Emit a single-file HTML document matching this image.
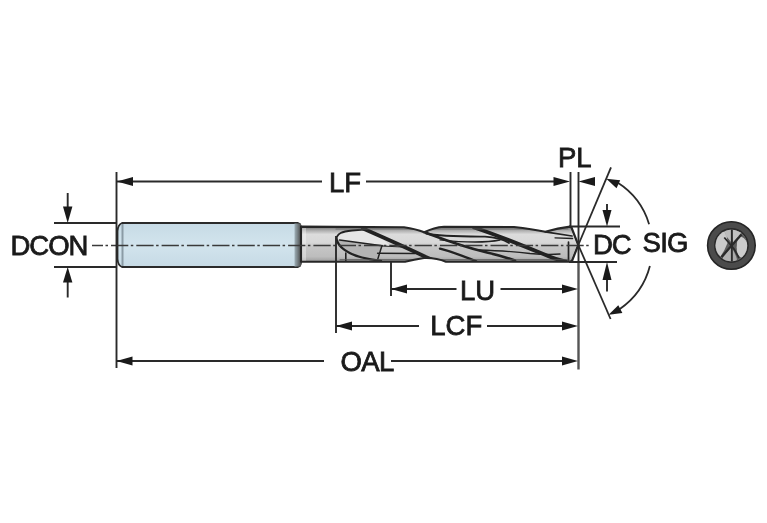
<!DOCTYPE html>
<html><head><meta charset="utf-8">
<style>
html,body{margin:0;padding:0;background:#fff;}
body{width:767px;height:523px;overflow:hidden;}
svg{display:block;}
text{font-family:"Liberation Sans",sans-serif;font-size:27.5px;fill:#1a1a1a;stroke:#1a1a1a;stroke-width:0.8px;}
</style></head><body>
<svg width="767" height="523" viewBox="0 0 767 523">
<defs>
  <linearGradient id="neck" x1="0" y1="0" x2="0" y2="1">
    <stop offset="0" stop-color="#707070"/>
    <stop offset="0.1" stop-color="#a9a9a9"/>
    <stop offset="0.22" stop-color="#dcdcdc"/>
    <stop offset="0.45" stop-color="#d8d8d8"/>
    <stop offset="0.56" stop-color="#c6c6c6"/>
    <stop offset="0.85" stop-color="#bdbdbd"/>
    <stop offset="1" stop-color="#9c9c9c"/>
  </linearGradient>
  <linearGradient id="shank" x1="0" y1="0" x2="0" y2="1">
    <stop offset="0" stop-color="#c6dae5"/>
    <stop offset="0.5" stop-color="#d2e4ed"/>
    <stop offset="1" stop-color="#c6dae5"/>
  </linearGradient>
  <linearGradient id="chamf" x1="0" y1="0" x2="1" y2="0">
    <stop offset="0" stop-color="#9fb0b8"/>
    <stop offset="0.4" stop-color="#7d888d"/>
    <stop offset="1" stop-color="#4a4a4a"/>
  </linearGradient>
  <radialGradient id="endg" cx="0.45" cy="0.4" r="0.6">
    <stop offset="0" stop-color="#e8e8e8"/>
    <stop offset="1" stop-color="#9a9a9a"/>
  </radialGradient>
  <filter id="gs" x="0" y="0" width="767" height="523" filterUnits="userSpaceOnUse"><feColorMatrix type="saturate" values="0"/></filter>
</defs>

<!-- ===== drill shank ===== -->
<path d="M122,223 L298,223 Q301,224 301,228 L301,262 Q301,266 298,267 L122,267 Q118,265.5 117.5,259 L117.5,231 Q118,224.5 122,223 Z" fill="url(#shank)" stroke="#2a2a2a" stroke-width="1.8"/>
<rect x="294.5" y="223.5" width="6.5" height="43" fill="url(#chamf)"/>
<line x1="122.5" y1="224" x2="122.5" y2="266" stroke="#8a9ba5" stroke-width="2"/>

<!-- ===== neck + body ===== -->
<clipPath id="bodyclip"><path d="M301,226.6 L404,227.3 Q416,229 424.3,232.3 Q434,227.5 444,226.8 L514,227 Q532,229 545.3,231.7 Q558,228 570,226.6 L571.5,227.5 L578.3,245 L572,261 L569,261.8 L446,261.8 Q436,257.5 424,258 Q414,259.5 405,261.8 L301,261.8 Z"/></clipPath>
<path d="M301,226.6 L404,227.3 Q416,229 424.3,232.3 Q434,227.5 444,226.8 L514,227 Q532,229 545.3,231.7 Q558,228 570,226.6 L571.5,227.5 L578.3,245 L572,261 L569,261.8 L446,261.8 Q436,257.5 424,258 Q414,259.5 405,261.8 L301,261.8 Z" fill="url(#neck)"/>
<rect x="302" y="227.5" width="4" height="33.5" fill="#ffffff" opacity="0.35"/>
<g clip-path="url(#bodyclip)">
  <path d="M337,239 C337.5,233.5 342,231.5 352,230.5 L364,229.5 C375,234 385,240 390,246 L339.5,240 Z" fill="#e6e6e6"/>
  <path d="M337,240 L382,245.8 L378,260.5 C368,259 350,255 342,249 Z" fill="#b4b4b4"/>
  <path d="M382,246 L402,247 L418,253.5 L378,253.3 Z" fill="#c8c8c8"/>
</g>
<!-- flutes -->
<g fill="none" stroke="#222" stroke-linecap="round" clip-path="url(#bodyclip)">
  <path d="M336.5,239 C337,233.5 342,231.5 352,230.5 L364,229.5" stroke-width="1.8"/>
  <path d="M336.5,239 C338,247 348,254 362,257.5 C368,259 374,260 381,260.8" stroke-width="2.3"/>
  <path d="M339.5,240 L382,245.8" stroke-width="1.5"/>
  <path d="M382,246 L402,247" stroke-width="1.2"/>
  <path d="M377.6,253.3 L415,253.5" stroke-width="1.5"/>
  <path d="M345.8,253 L345.8,262" stroke-width="1.6"/>
  <path d="M382,245.5 L377.6,259.6" stroke-width="1.5"/>
  <path d="M363,228.5 C387,239 410,249.4 428,258 Q432,260 436,261.5" stroke-width="3.8"/>
  <path d="M424,232 C440,238 460,246 487,252.5 Q502,256 515,260.5" stroke-width="2.6"/>
  <path d="M426,233.5 C440,236.5 465,236.5 485,236.7 Q500,237.5 509,243" stroke-width="1.8"/>
  <path d="M440,239.8 Q460,242 475,242 Q490,242 500,240" stroke-width="1.3"/>
  <path d="M478,250 Q510,251 530,253.5 Q548,255 560,254" stroke-width="1.3"/>
  <path d="M440,248.6 C450,251 460,255 476,261" stroke-width="2.4"/>
  <path d="M474,227.5 C500,236 526,247 548,256 Q556,259.5 566,261.5" stroke-width="3.8"/>
  <path d="M545.3,231.8 L572,236" stroke-width="1.7"/>
  <path d="M555,237.8 L572.6,238.5" stroke-width="1.3"/>
  <path d="M568.5,242 L568.5,260" stroke-width="1.7"/>
  <path d="M571.5,227.3 L578.3,245 L572,261" stroke-width="1.5"/>
  <path d="M340,259.8 L568,259.8" stroke-width="1" stroke="#555"/>
  <path d="M336,229 L568,229" stroke-width="0.8" stroke="#666"/>
</g>

<path d="M301,226.6 L404,227.3 Q416,229 424.3,232.3 Q434,227.5 444,226.8 L514,227 Q532,229 545.3,231.7 Q558,228 570,226.6 L571.5,227.5 L578.3,245 L572,261 L569,261.8 L446,261.8 Q436,257.5 424,258 Q414,259.5 405,261.8 L301,261.8 Z" fill="none" stroke="#262626" stroke-width="2.1" stroke-linejoin="round"/>

<!-- ===== centre line ===== -->
<line x1="92" y1="245.5" x2="590" y2="245.5" stroke="#3a3a3a" stroke-width="1.6" stroke-dasharray="17.3 2.5 2.5 3" stroke-dashoffset="6.3"/>

<!-- ===== extension lines ===== -->
<g stroke="#2a2a2a" stroke-width="1.9" fill="none">
  <line x1="116.5" y1="172" x2="116.5" y2="368"/>
  <line x1="578.5" y1="172" x2="578.5" y2="262"/>
  <line x1="578.5" y1="262" x2="578.5" y2="369.5" stroke="#555" stroke-width="2.4"/>
  <line x1="570.5" y1="172" x2="570.5" y2="227"/>
  <line x1="336" y1="236" x2="336" y2="333"/>
  <line x1="391" y1="262" x2="391" y2="296"/>
  <line x1="54" y1="223" x2="117" y2="223"/>
  <line x1="54" y1="267" x2="117" y2="267"/>
  <line x1="569" y1="226.5" x2="620" y2="226.5"/>
  <line x1="569" y1="262" x2="617" y2="262"/>
</g>

<!-- ===== dimension lines ===== -->
<g stroke="#2a2a2a" stroke-width="1.9" fill="none">
  <line x1="117" y1="181.5" x2="322" y2="181.5"/>
  <line x1="366" y1="181.5" x2="556" y2="181.5"/>
  <line x1="391" y1="289" x2="456.5" y2="289"/>
  <line x1="500.5" y1="289" x2="565" y2="289"/>
  <line x1="336" y1="326" x2="419" y2="326"/>
  <line x1="487" y1="326" x2="565" y2="326"/>
  <line x1="117" y1="361" x2="324" y2="361"/>
  <line x1="391" y1="361" x2="565" y2="361"/>
  <line x1="67.7" y1="193" x2="67.7" y2="210"/>
  <line x1="67.7" y1="280" x2="67.7" y2="297.5"/>
  <line x1="607" y1="204" x2="607" y2="212"/>
  <line x1="607" y1="276" x2="607" y2="291.5"/>
</g>
<g fill="#1a1a1a">
  <!-- LF -->
  <path d="M117,181.5 L133,177 L133,186 Z"/>
  <path d="M570,181.5 L553.5,177 L553.5,186 Z"/>
  <!-- PL -->
  <path d="M578.5,181.5 L595,177 L595,186 Z"/>
  <!-- LU -->
  <path d="M391,289 L407,284.5 L407,293.5 Z"/>
  <path d="M578,289 L562,284.5 L562,293.5 Z"/>
  <!-- LCF -->
  <path d="M336,326 L352,321.5 L352,330.5 Z"/>
  <path d="M578,326 L562,321.5 L562,330.5 Z"/>
  <!-- OAL -->
  <path d="M116.5,361 L132.5,356.5 L132.5,365.5 Z"/>
  <path d="M578,361 L562,356.5 L562,365.5 Z"/>
  <!-- DCON -->
  <path d="M67.7,223 L63,206.5 L72.4,206.5 Z"/>
  <path d="M67.7,267 L63,282.5 L72.4,282.5 Z"/>
  <!-- DC -->
  <path d="M607,226.5 L602.5,210 L611.5,210 Z"/>
  <path d="M607,262 L602.5,280 L611.5,280 Z"/>
</g>

<!-- ===== SIG ===== -->
<g stroke="#2a2a2a" stroke-width="1.8" fill="none">
  <line x1="611" y1="167.4" x2="578.3" y2="245"/>
  <line x1="578.3" y1="245" x2="610.6" y2="319"/>
  <path d="M617.5,182.6 A75,75 0 0 1 649.1,224.2"/>
  <path d="M649.9,266 A75,75 0 0 1 619.5,309.2"/>
</g>
<g fill="#1a1a1a">
  <path d="M606.3,178.7 L620.2,180.3 L616.5,188.2 Z"/>
  <path d="M608.6,314.7 L618.3,305.2 L622.4,313 Z"/>
</g>

<!-- ===== end view ===== -->
<circle cx="731.4" cy="245.5" r="20.3" fill="#8e8e8e" stroke="#4b4b4b" stroke-width="7.2"/>
<circle cx="731.4" cy="245.5" r="23.8" fill="none" stroke="#262626" stroke-width="1.6"/>
<circle cx="731.4" cy="245.5" r="16.6" fill="none" stroke="#2a2a2a" stroke-width="1.6"/>
<clipPath id="endclip"><circle cx="731.4" cy="245.5" r="15.8"/></clipPath>
<g clip-path="url(#endclip)">
  <rect x="714" y="228" width="36" height="36" fill="#5c5c5c"/>
  <path d="M716.5,236 Q721,231 724.5,231.5 Q728,237 727.5,243 Q725,250 720.5,256.5 Q715,252 714.8,245 Z" fill="#cacaca"/>
  <path d="M724.5,229.5 L731,229 L731,242 Q728,238 725.5,235.5 Z" fill="#bcbcbc"/>
  <path d="M732.6,229 Q738,229.5 741.5,232.5 L733,242.5 Z" fill="#c2c2c2"/>
  <path d="M738.5,236 Q744.5,236.5 747.3,243 Q748.5,252 744.5,257.5 Q739.5,258.5 737.5,254 Q735.5,246 738.5,236 Z" fill="#cccccc"/>
  <path d="M723,257.5 L731,247 L731,262.5 Q726.5,261.5 723,259 Z" fill="#b2b2b2"/>
  <path d="M732.6,249 Q735.5,254 737,259.5 Q735,261.5 732.6,262.5 Z" fill="#a9a9a9"/>
  <g stroke="#2a2a2a" fill="none">
    <line x1="731.8" y1="228" x2="731.8" y2="263" stroke-width="1.8"/>
    <line x1="741.5" y1="234.5" x2="721.5" y2="257" stroke-width="2.2"/>
    <path d="M724.3,237.5 Q730,244 734,249 Q737,254 739,258" stroke-width="1.8"/>
  </g>
</g>

<!-- ===== labels ===== -->
<g filter="url(#gs)">
<text x="10.5" y="255.4" letter-spacing="-1">DCON</text>
<text x="329" y="191.6">LF</text>
<text x="558" y="166.8">PL</text>
<text x="593" y="254.4" letter-spacing="-1">DC</text>
<text x="642.5" y="251.5" letter-spacing="-0.7">SIG</text>
<text x="460" y="299.5">LU</text>
<text x="430.3" y="335.3">LCF</text>
<text x="340.5" y="370.7" letter-spacing="-0.6">OAL</text>
</g>
</svg>
</body></html>
